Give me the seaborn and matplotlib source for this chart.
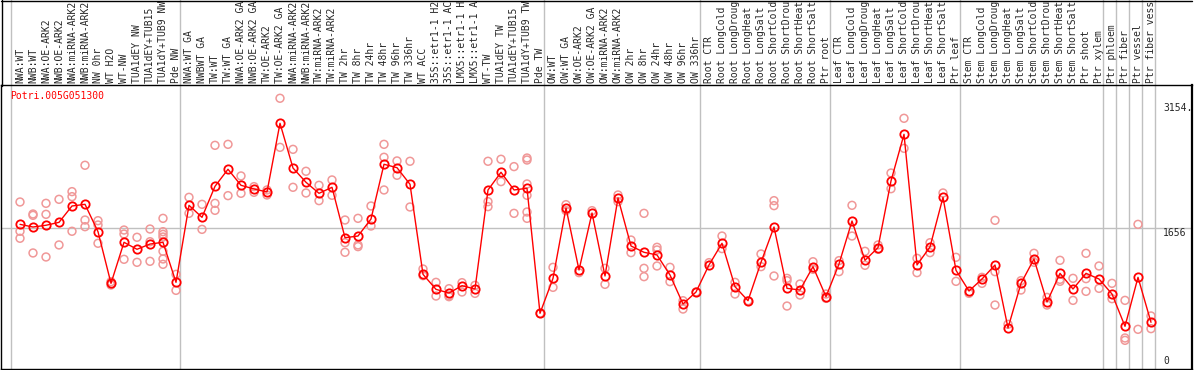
import numpy as np
import pandas as pd
import matplotlib
matplotlib.use("Agg")
import matplotlib.pyplot as plt
from matplotlib.lines import Line2D
import seaborn as sns

# gen y muestras
gene = "Potri.005G051300"
samples = [
    "NWA:WT", "NWB:WT", "NWA:OE-ARK2", "NWB:OE-ARK2", "NWA:miRNA-ARK2", "NWB:miRNA-ARK2",
    "NW 0hr", "WT H2O", "WT-NW", "TUA1dEY NW", "TUA1dEY+TUB15", "TUA1dY+TUB9 NW", "Pde NW",
    "NWA:WT GA", "NWBWT GA", "TW:WT", "TW:WT GA", "NWA:OE-ARK2 GA", "NWB:OE-ARK2 GA",
    "TW:OE-ARK2", "TW:OE-ARK2 GA", "NWA:miRNA-ARK2", "NWB:miRNA-ARK2", "TW:miRNA-ARK2",
    "TW:miRNA-ARK2", "TW 2hr", "TW 8hr", "TW 24hr", "TW 48hr", "TW 96hr", "TW 336hr",
    "WT ACC", "35S::etr1-1 H2", "35S::etr1-1 AC", "LMX5::etr1-1 H", "LMX5::etr1-1 A",
    "WT-TW", "TUA1dEY TW", "TUA1dEY+TUB15", "TUA1dY+TUB9 TW", "Pde TW",
    "OW:WT", "OW:WT GA", "OW:OE-ARK2", "OW:OE-ARK2 GA", "OW:miRNA-ARK2", "OW:miRNA-ARK2",
    "OW 2hr", "OW 8hr", "OW 24hr", "OW 48hr", "OW 96hr", "OW 336hr",
    "Root CTR", "Root LongCold", "Root LongDroug", "Root LongHeat", "Root LongSalt",
    "Root ShortCold", "Root ShortDrou", "Root ShortHeat", "Root ShortSalt", "Ptr root",
    "Leaf CTR", "Leaf LongCold", "Leaf LongDroug", "Leaf LongHeat", "Leaf LongSalt",
    "Leaf ShortCold", "Leaf ShortDrou", "Leaf ShortHeat", "Leaf ShortSalt", "Ptr leaf",
    "Stem CTR", "Stem LongCold", "Stem LongDroug", "Stem LongHeat", "Stem LongSalt",
    "Stem ShortCold", "Stem ShortDrou", "Stem ShortHeat", "Stem ShortSalt", "Ptr shoot",
    "Ptr xylem", "Ptr phloem", "Ptr fiber", "Ptr vessel", "Ptr fiber vess",
]

# media por muestra
means = [
    1700, 1668, 1689, 1724, 1920, 1940, 1612, 993, 1485, 1401, 1464, 1485, 1005,
    1928, 1784, 2156, 2360, 2168, 2124, 2088, 2911, 2375, 2204, 2072, 2144, 1540, 1560,
    1764, 2420, 2379, 2180, 1101, 921, 877, 965, 925, 2112, 2324, 2112, 2132, 634,
    1053, 1896, 1153, 1836, 1081, 2016, 1441, 1365, 1333, 1093, 745, 889,
    1213, 1473, 953, 785, 1245, 1668, 933, 913, 1193, 833,
    1225, 1740, 1269, 1421, 2220, 2779, 1213, 1429, 2024, 1149,
    901, 1045, 1213, 458, 993, 1285, 769, 1113, 925, 1113, 1045,
    865, 478, 1065, 526,
]

# replicas por muestra
replicates = [
    [1968, 1617, 1533], [1824, 1808, 1357], [1952, 1820, 1309], [2000, 1453],
    [2092, 2032, 1617], [2408, 1752, 1672], [1744, 1692, 1473], [1013, 973],
    [1632, 1584, 1281], [1545, 1245], [1644, 1492, 1257],
    [1772, 1612, 1580, 1548, 1377, 1285, 1221], [1101, 909],
    [2024, 1832], [1940, 1640], [2647, 1952, 1868], [2659, 2044], [2280, 2072],
    [2152, 2084], [2112, 2052], [3211, 2623], [2599, 2144], [2336, 2076],
    [2168, 1984], [2232, 2048], [1752, 1480, 1365], [1772, 1453, 1433],
    [1920, 1680], [2659, 2504, 2112], [2460, 2288], [2456, 1908], [1165, 1085],
    [1005, 841], [929, 845, 833], [1001, 889], [969, 873], [2456, 1972, 1912],
    [2480, 2212], [2392, 1832], [2495, 2471, 2184, 2048, 1848, 1772], [634],
    [1185, 945], [1936, 1864], [1121], [1864], [1173, 981], [2052, 1972],
    [1512, 1361], [1832, 1173, 1073], [1425, 1393, 1201], [1185, 1013],
    [785, 685], [889],
    [1241], [1560, 1409], [1005, 865], [785], [1345, 1193], [1984, 1924, 1081],
    [1053, 1025, 721], [985, 853], [1252, 1161], [865, 813],
    [1265, 1133], [1928, 1560], [1377, 1209], [1453, 1401], [2315, 2127],
    [2971, 2611], [1293, 1121], [1480, 1361], [2076], [1305, 1017],
    [873], [1065, 993], [1748, 1133, 733], [502], [1025, 913], [1353, 1245],
    [825, 733], [1269, 1041, 1017], [1053, 789], [1353, 1049, 897], [1201, 933],
    [993, 809], [789, 338, 310], [1700, 442], [602, 450],
]

y_ticks = [0, 1656, 3154]
y_tick_labels = ["0", "1656", "3154."]
group_starts = [0, 13, 41, 53, 63, 73, 84, 85, 86, 87, 88]

# tablas para seaborn
x = np.arange(len(samples))
df_mean = pd.DataFrame({"pos": x, "valor": means})
df_rep = pd.DataFrame(
    [(i, v) for i, vals in enumerate(replicates) for v in vals],
    columns=["pos", "valor"],
)

sns.set_style("white")
plt.rcParams["font.family"] = ["DejaVu Sans Mono"]

W, H = 1194, 370
fig = plt.figure(figsize=(W / 100, H / 100), dpi=100)
ax = fig.add_axes([1 / W, 1 - 369 / H, 1191 / W, 284 / H])

# lineas de grupo y referencia
for g in group_starts:
    ax.axvline(g - 0.68, ymin=0, ymax=1 + 86 / 284, color="#c0c0c0", lw=1,
               clip_on=False, zorder=1)
ax.axhline(1656, color="#c0c0c0", lw=1, zorder=1)

sns.scatterplot(data=df_rep, x="pos", y="valor", marker="o", s=32,
                fc="none", ec="#f09898", linewidth=1.1, ax=ax, zorder=2)
sns.lineplot(data=df_mean, x="pos", y="valor", color="red", lw=1,
             marker="o", markersize=6, markerfacecolor="none",
             markeredgecolor="red", markeredgewidth=1.3, ax=ax, zorder=3)

ax.set_xlim((1 - 20) / 13, (1192 - 20) / 13)
ax.set_ylim(-33.6, 3370)
ax.set_xlabel("")
ax.set_ylabel("")

ax.xaxis.tick_top()
ax.set_xticks(x)
ax.set_xticklabels(samples, rotation=90, fontsize=7)
ax.tick_params(axis="x", length=0, pad=1.5)
ax.set_yticks([])

for v, lab in zip(y_ticks, y_tick_labels):
    ax.text(0.9757, v, lab, transform=ax.get_yaxis_transform(), ha="left",
            va="bottom" if v == 0 else "top", fontsize=7)

ax.text(9 / 1191, 1 - 6 / 284, gene, transform=ax.transAxes, color="red",
        ha="left", va="top", fontsize=7)

for s in ax.spines.values():
    s.set_color("black")
    s.set_linewidth(1)
ax.spines["right"].set_linewidth(1.6)

# marco de la cabecera
fig.add_artist(Line2D([1 / W, 1192 / W], [1 - 0.5 / H, 1 - 0.5 / H], color="black", lw=1))
fig.add_artist(Line2D([1.5 / W, 1.5 / W], [1 - 86 / H, 1], color="black", lw=1))

fig.savefig("out.png", dpi=100)
